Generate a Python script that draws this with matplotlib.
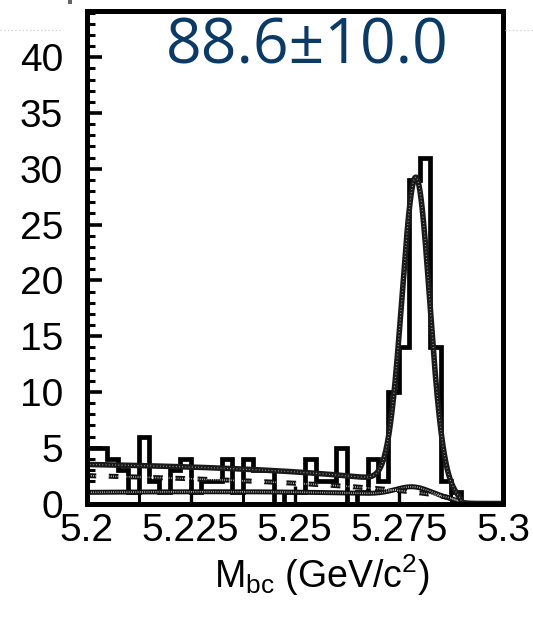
import numpy as np
import matplotlib
matplotlib.use("Agg")
import matplotlib.pyplot as plt
from matplotlib.ticker import MultipleLocator, FixedLocator
from matplotlib.lines import Line2D
from matplotlib.patches import Rectangle

plt.rcParams["font.family"] = ["Liberation Sans", "DejaVu Sans"]
plt.rcParams["mathtext.fontset"] = "custom"
plt.rcParams["mathtext.rm"] = "Liberation Sans"
plt.rcParams["mathtext.it"] = "Liberation Sans:italic"
plt.rcParams["lines.scale_dashes"] = False

# Mbc distribution: 40 bins of 2.5 MeV/c^2 between 5.20 and 5.30 GeV/c^2
mbc_range = (5.20, 5.30)
n_bins = 40
counts = [5, 5, 4, 3, 1, 6, 2, 1, 3, 4,
          1, 2, 2, 4, 1, 4, 3, 3, 0, 1,
          1, 4, 2, 2, 5, 0, 1, 4, 2, 10,
          14, 29, 31, 14, 2, 1, 0, 0, 0, 0]

# Fit model: Gaussian signal + ARGUS continuum + B-Bbar background
signal_yield = 88.6
signal_error = 10.0
signal_mean = 5.2791
signal_sigma = 0.0033
argus_endpoint = 5.29
cont_level = 2.5        # events per bin at 5.20
cont_shape = -4.0
bb_level = 1.0          # events per bin at 5.20
bb_shape = -22.0
bb_peak_height = 0.8
bb_peak_mean = 5.2785
bb_peak_sigma = 0.0042

x_ticks = [5.2, 5.225, 5.25, 5.275, 5.3]
x_tick_labels = ["5.2", "5.225", "5.25", "5.275", "5.3"]
y_ticks = [0, 5, 10, 15, 20, 25, 30, 35, 40]
y_tick_labels = ["0", "5", "10", "15", "20", "25", "30", "35", "40"]


def argus(m, c):
    r = np.clip(1.0 - (m / argus_endpoint) ** 2, 0.0, None)
    return m * np.sqrt(r) * np.exp(c * r)


def gauss(m, mu, s):
    return np.exp(-0.5 * ((m - mu) / s) ** 2)


edges = np.linspace(mbc_range[0], mbc_range[1], n_bins + 1)
bin_width = edges[1] - edges[0]
m = np.linspace(mbc_range[0], mbc_range[1], 800)

continuum = cont_level * argus(m, cont_shape) / argus(mbc_range[0], cont_shape)
bbbar = (bb_level * argus(m, bb_shape) / argus(mbc_range[0], bb_shape)
         + bb_peak_height * gauss(m, bb_peak_mean, bb_peak_sigma))
signal = (signal_yield * bin_width / (signal_sigma * np.sqrt(2 * np.pi))
          * gauss(m, signal_mean, signal_sigma))
total = signal + continuum + bbbar

fig = plt.figure(figsize=(5.33, 6.24), dpi=100)
ax = fig.add_axes([0.1623, 0.1931, 0.7814, 0.7885])

ax.stairs(counts, edges, color="black", lw=3.4, baseline=0, zorder=2)


def hatched_line(x, y, lw, dash=None, z=3, base="#111111", dots=(0.7, 1.3), dot_lw=1.1):
    ls = (0, dash) if dash else "-"
    ax.plot(x, y, color=base, lw=lw, ls=ls, solid_capstyle="butt",
            dash_capstyle="butt", zorder=z)
    ax.plot(x, y, color="white", lw=dot_lw, ls=(0, dots), zorder=z + 0.05, alpha=0.75)


hatched_line(m, bbbar, 3.6, z=3, dots=(0.6, 1.0), dot_lw=1.2)
hatched_line(m, continuum, 3.6, dash=(7.0, 9.0), z=3.2, dots=(0.6, 1.0), dot_lw=1.2)
hatched_line(m, total, 4.0, z=3.4, base="#1a1a1a", dots=(0.5, 1.8), dot_lw=0.8)

ax.set_xlim(*mbc_range)
ax.set_ylim(0, 44.1)

ax.xaxis.set_major_locator(FixedLocator(x_ticks))
ax.set_xticklabels(x_tick_labels)
ax.xaxis.set_minor_locator(MultipleLocator(0.0125))
ax.yaxis.set_major_locator(FixedLocator(y_ticks))
ax.set_yticklabels(y_tick_labels)
ax.yaxis.set_minor_locator(MultipleLocator(1))

ax.tick_params(axis="both", which="both", direction="in", top=False, right=False,
               labelsize=28, colors="black")
ax.tick_params(axis="y", which="major", length=11, width=2.6, pad=17)
ax.tick_params(axis="y", which="minor", length=5.5, width=2.2)
ax.tick_params(axis="x", which="major", length=13, width=2.4, pad=7)
ax.tick_params(axis="x", which="minor", length=11, width=2.2)

for sp in ax.spines.values():
    sp.set_linewidth(3.6)
    sp.set_zorder(5)

fig.text(0.603, 1 - 588 / 624, r"M$_{\mathregular{bc}}$ (GeV/c$^{\mathregular{2}}$)",
         ha="center", va="baseline", fontsize=27)

fig.text(0.576, 0.925, f"{signal_yield:.1f}\u00b1{signal_error:.1f}",
         ha="center", va="center", fontsize=45, color="#0b3a66",
         family=["Open Sans", "DejaVu Sans"])

# faint guide line and marker in the page margin
yl = 1 - 30 / 624
fig.add_artist(Line2D([0, 60 / 533], [yl, yl], color="#cccccc", lw=0.8, ls=":"))
fig.add_artist(Line2D([505 / 533, 1], [yl, yl], color="#cccccc", lw=0.8, ls=":"))
fig.add_artist(Rectangle((68 / 533, 1 - 4 / 624), 4 / 533, 4 / 624,
                         transform=fig.transFigure, color="#666666", lw=0))

fig.savefig("out.png", dpi=100)
